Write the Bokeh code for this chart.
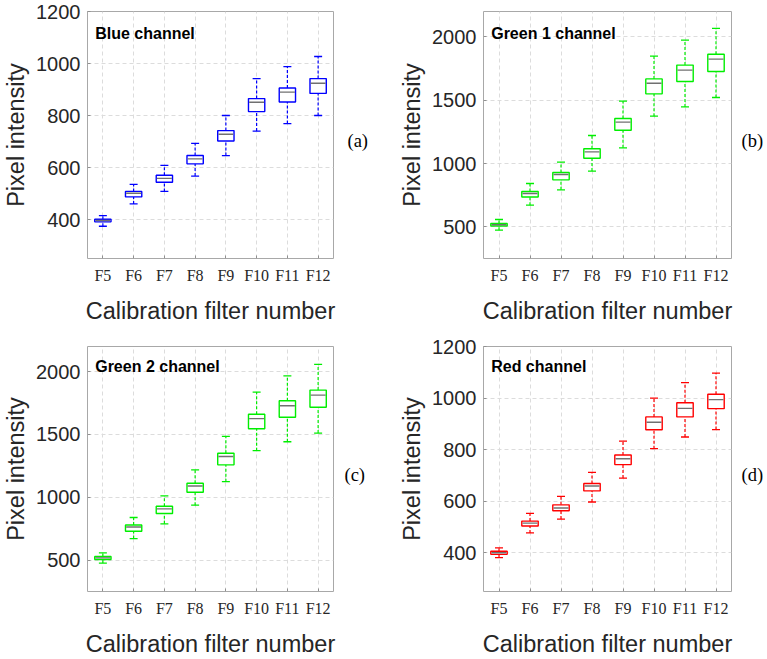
from bokeh.plotting import figure
from bokeh.layouts import column, row
from bokeh.models import Label, FactorRange, Range1d, FixedTicker, ColumnDataSource, LinearAxis
from bokeh.embed import file_html
from bokeh.resources import INLINE

categories = ["F5", "F6", "F7", "F8", "F9", "F10", "F11", "F12"]

blue_low = [374, 460, 508, 567, 646, 740, 769, 800]
blue_q1 = [391, 487, 543, 614, 702, 815, 852, 885]
blue_med = [396, 501, 558, 633, 728, 851, 890, 924]
blue_q3 = [401, 508, 570, 646, 742, 865, 906, 942]
blue_high = [415, 535, 608, 693, 800, 942, 988, 1027]

green1_low = [474, 671, 792, 940, 1124, 1374, 1447, 1521]
green1_q1 = [506, 735, 871, 1042, 1263, 1550, 1647, 1726]
green1_med = [516, 763, 913, 1092, 1327, 1634, 1737, 1824]
green1_q3 = [526, 779, 929, 1116, 1355, 1668, 1777, 1863]
green1_high = [558, 842, 1011, 1221, 1492, 1848, 1974, 2066]

green2_low = [476, 671, 789, 937, 1124, 1371, 1442, 1511]
green2_q1 = [505, 729, 871, 1040, 1258, 1545, 1637, 1716]
green2_med = [518, 763, 908, 1090, 1324, 1626, 1729, 1813]
green2_q3 = [529, 779, 929, 1111, 1350, 1661, 1768, 1853]
green2_high = [558, 839, 1011, 1218, 1484, 1837, 1966, 2058]

red_low = [381, 477, 531, 597, 690, 804, 849, 878]
red_q1 = [394, 504, 563, 640, 742, 877, 927, 959]
red_med = [400, 515, 574, 659, 765, 906, 960, 994]
red_q3 = [406, 523, 586, 669, 779, 927, 982, 1015]
red_high = [419, 553, 619, 712, 833, 1000, 1060, 1097]

ticks_small = [400, 600, 800, 1000, 1200]
ticks_large = [500, 1000, 1500, 2000]

SANS = "Liberation Sans"
SERIF = "Liberation Serif"
TXT = "#262626"


def make_panel(title, tag, color, low, q1, med, q3, high, yrange, yticks,
               width, height, bl, br, bt, bb, tag_standoff):
    p = figure(width=width, height=height, x_range=FactorRange(*categories),
               y_range=Range1d(*yrange), output_backend="svg",
               toolbar_location=None, tools="",
               min_border_left=bl, min_border_right=br,
               min_border_top=bt, min_border_bottom=bb)
    p.background_fill_color = "white"
    p.border_fill_color = "white"
    p.outline_line_color = "#a8a8a8"
    p.outline_line_width = 1

    src = ColumnDataSource(dict(x=categories, low=low, q1=q1, med=med, q3=q3, high=high))
    p.segment(x0="x", y0="q3", x1="x", y1="high", source=src, line_color=color,
              line_width=1.2, line_dash="3 2")
    p.segment(x0="x", y0="low", x1="x", y1="q1", source=src, line_color=color,
              line_width=1.2, line_dash="3 2")
    p.scatter(x="x", y="high", source=src, marker="dash", size=8,
              line_color=color, line_width=1.3)
    p.scatter(x="x", y="low", source=src, marker="dash", size=8,
              line_color=color, line_width=1.3)
    p.vbar(x="x", top="q3", bottom="q1", width=0.53, source=src,
           fill_color="white", line_color=color, line_width=1.4)
    p.scatter(x="x", y="med", source=src, marker="dash", size=15,
              line_color="#707070", line_width=1.4)

    for ax in (p.xaxis[0], p.yaxis[0]):
        ax.axis_line_color = None
        ax.major_tick_out = 0
        ax.major_tick_in = 3
        ax.major_tick_line_color = "#909090"
        ax.minor_tick_line_color = None
        ax.major_label_text_color = TXT
        ax.axis_label_text_color = TXT
        ax.axis_label_text_font = SANS
        ax.axis_label_text_font_style = "normal"
        ax.axis_label_text_font_size = "23.5px"

    p.xaxis.axis_label = "Calibration filter number"
    p.xaxis.major_label_text_font = SERIF
    p.xaxis.major_label_text_font_size = "16px"
    p.xaxis.major_label_standoff = 8
    p.xaxis.axis_label_standoff = 11

    p.yaxis.axis_label = "Pixel intensity"
    p.yaxis.ticker = FixedTicker(ticks=yticks)
    p.yaxis.major_label_text_font = SANS
    p.yaxis.major_label_text_font_size = "20px"
    p.yaxis.major_label_standoff = 7
    p.yaxis.axis_label_standoff = 4

    for g in (p.xgrid[0], p.ygrid[0]):
        g.grid_line_color = "#dcdcdc"
        g.grid_line_dash = "4 3"
        g.grid_line_width = 1

    # panel tag "(a)" etc. drawn as the single label of a bare right-hand axis
    p.extra_y_ranges = {"tag": Range1d(0, 1)}
    tag_axis = LinearAxis(y_range_name="tag", ticker=FixedTicker(ticks=[0.475]),
                          major_label_overrides={0.475: tag},
                          axis_line_color=None, major_tick_line_color=None,
                          major_tick_out=0, major_tick_in=0,
                          minor_tick_line_color=None, minor_tick_out=0, minor_tick_in=0,
                          major_label_text_font=SERIF, major_label_text_font_size="18.5px",
                          major_label_text_color="black",
                          major_label_standoff=tag_standoff)
    p.add_layout(tag_axis, "right")

    p.add_layout(Label(x=7.7, y=225, x_units="screen", y_units="screen", text=title,
                       text_font=SANS, text_font_style="bold", text_font_size="16px",
                       text_color="black", text_baseline="alphabetic"))
    return p


pa = make_panel("Blue channel", "(a)", "#0000ff", blue_low, blue_q1, blue_med, blue_q3, blue_high,
                (250, 1200), ticks_small, 383, 330, 85, 50, 11, 72, 14)
pb = make_panel("Green 1 channel", "(b)", "#00ee00", green1_low, green1_q1, green1_med, green1_q3, green1_high,
                (250, 2200), ticks_large, 384, 330, 100, 36, 11, 72, 10)
pc = make_panel("Green 2 channel", "(c)", "#00ee00", green2_low, green2_q1, green2_med, green2_q3, green2_high,
                (250, 2200), ticks_large, 383, 329, 85, 50, 16, 66, 11)
pd = make_panel("Red channel", "(d)", "#ff0000", red_low, red_q1, red_med, red_q3, red_high,
                (250, 1200), ticks_small, 384, 329, 100, 36, 16, 66, 10)

layout = column(row(pa, pb), row(pc, pd))
open("out.html", "w").write(file_html(layout, INLINE))
